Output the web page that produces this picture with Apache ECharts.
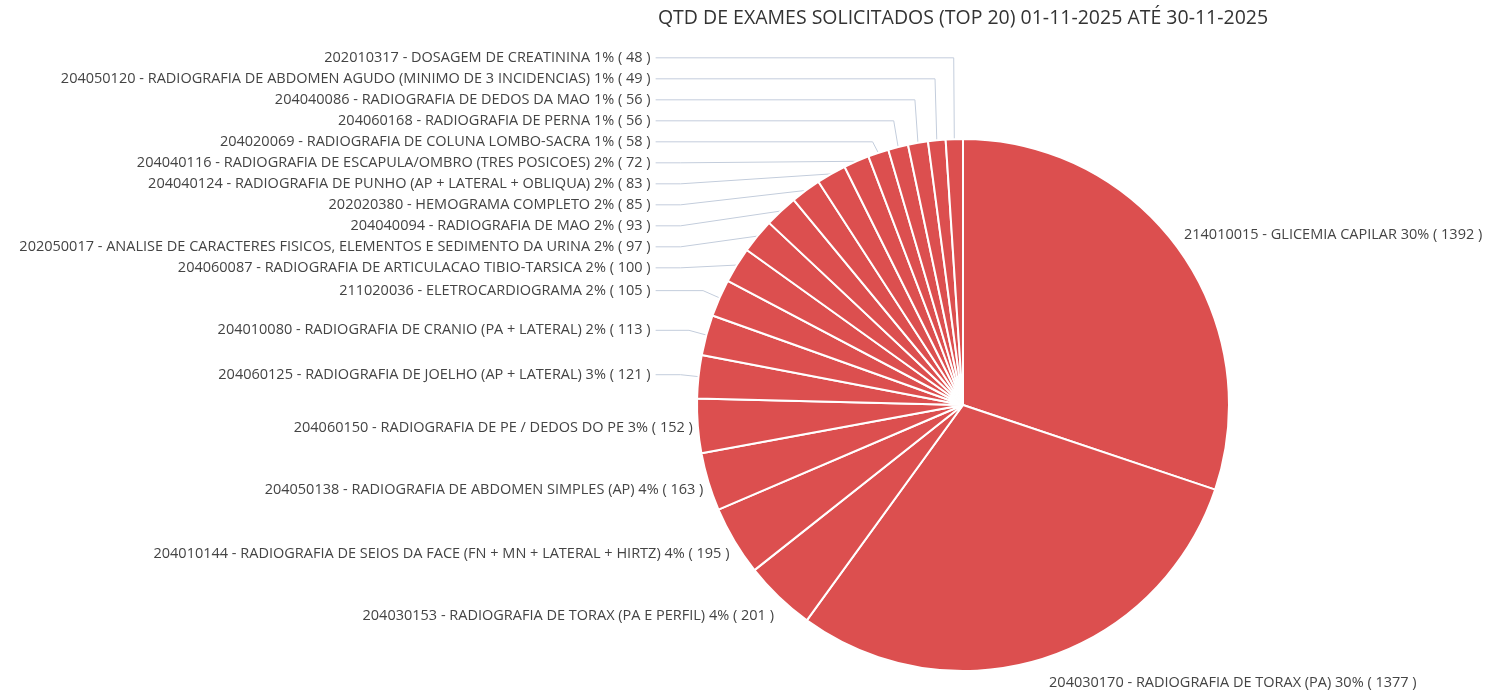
<!DOCTYPE html>
<html>
<head>
<meta charset="utf-8">
<script src="https://cdn.jsdelivr.net/npm/echarts@6/dist/echarts.min.js"></script>
<style>
  html, body { margin: 0; padding: 0; background: #fff; }
  #chart { width: 1492px; height: 695px; }
</style>
</head>
<body>
<div id="chart"></div>
<script>
// exames (top 20), ordem do grafico
var codigos = ['214010015', '204030170', '204030153', '204010144', '204050138', '204060150',
  '204060125', '204010080', '211020036', '204060087', '202050017', '204040094', '202020380',
  '204040124', '204040116', '204020069', '204060168', '204040086', '204050120', '202010317'];
var exames = ['GLICEMIA CAPILAR', 'RADIOGRAFIA DE TORAX (PA)', 'RADIOGRAFIA DE TORAX (PA E PERFIL)',
  'RADIOGRAFIA DE SEIOS DA FACE (FN + MN + LATERAL + HIRTZ)', 'RADIOGRAFIA DE ABDOMEN SIMPLES (AP)',
  'RADIOGRAFIA DE PE / DEDOS DO PE', 'RADIOGRAFIA DE JOELHO (AP + LATERAL)',
  'RADIOGRAFIA DE CRANIO (PA + LATERAL)', 'ELETROCARDIOGRAMA', 'RADIOGRAFIA DE ARTICULACAO TIBIO-TARSICA',
  'ANALISE DE CARACTERES FISICOS, ELEMENTOS E SEDIMENTO DA URINA', 'RADIOGRAFIA DE MAO',
  'HEMOGRAMA COMPLETO', 'RADIOGRAFIA DE PUNHO (AP + LATERAL + OBLIQUA)',
  'RADIOGRAFIA DE ESCAPULA/OMBRO (TRES POSICOES)', 'RADIOGRAFIA DE COLUNA LOMBO-SACRA',
  'RADIOGRAFIA DE PERNA', 'RADIOGRAFIA DE DEDOS DA MAO',
  'RADIOGRAFIA DE ABDOMEN AGUDO (MINIMO DE 3 INCIDENCIAS)', 'DOSAGEM DE CREATININA'];
var quantidades = [1392, 1377, 201, 195, 163, 152, 121, 113, 105, 100, 97, 93, 85, 83, 72, 58, 56, 56, 49, 48];

var total = quantidades.reduce(function (a, b) { return a + b; }, 0);

// geometria da pizza e dos rotulos
var CX = 963, CY = 405, R = 266;
var LEN = 18, LEN2 = 25, DIST = 5, LINHA = 21;
var GRANDE = 150; // fatias >= GRANDE: rotulo junto da borda, sem linha

// posicao dos rotulos: os pequenos empilhados a esquerda (pilha centrada), os grandes colados na borda
function calcRotulos() {
  var acc = 0;
  var info = quantidades.map(function (v) {
    var a = (acc + v / 2) / total * Math.PI * 2;
    acc += v;
    var s = Math.sin(a), c = Math.cos(a);
    return {
      v: v, s: s, c: c,
      p0: [CX + R * s, CY - R * c],
      x2: CX + (R + LEN) * s,
      y2: CY - (R + LEN) * c
    };
  });

  var peq = info.filter(function (o) { return o.v < GRANDE; })
    .sort(function (a, b) { return a.y2 - b.y2; });
  var grupos = peq.map(function (o) { return { itens: [o], soma: o.y2 }; });
  function topo(g) { return g.soma / g.itens.length - (g.itens.length - 1) * LINHA / 2; }
  var mudou = true;
  while (mudou) {
    mudou = false;
    for (var k = 1; k < grupos.length; k++) {
      var a = grupos[k - 1], b = grupos[k];
      if (topo(a) + a.itens.length * LINHA > topo(b)) {
        grupos.splice(k - 1, 2, { itens: a.itens.concat(b.itens), soma: a.soma + b.soma });
        mudou = true;
        break;
      }
    }
  }
  grupos.forEach(function (g) {
    var t = topo(g);
    g.itens.forEach(function (o, j) { o.y = t + j * LINHA; });
  });

  var xFim = Math.min.apply(null, peq.map(function (o) { return o.x2; })) - LEN2 - DIST;
  peq.forEach(function (o) {
    o.x = xFim;
    o.align = 'right';
    var p2 = [xFim + DIST, o.y];
    // rotulo empurrado para baixo: linha diagonal; senao cotovelo na altura do rotulo
    var p1 = o.y > o.y2 + 10 ? [p2[0] + LEN2, o.y] : [o.x2, o.y];
    o.linha = [o.p0, p1, p2];
  });

  info.forEach(function (o) {
    if (o.v >= GRANDE) {
      o.x = o.p0[0] + (o.s < 0 ? -DIST : DIST);
      o.y = CY - (R + 26) * o.c;
      o.align = o.s < 0 ? 'right' : 'left';
    }
  });
  return info;
}
var rotulos = calcRotulos();

var dados = quantidades.map(function (v, i) {
  var item = { name: codigos[i] + ' - ' + exames[i], value: v };
  if (v >= GRANDE) {
    item.labelLine = { show: false };
  }
  return item;
});

var myChart = echarts.init(document.getElementById('chart'));
var option = {
  title: {
    text: 'QTD DE EXAMES SOLICITADOS (TOP 20) 01-11-2025 ATÉ 30-11-2025',
    left: 958,
    textAlign: 'center',
    top: 3,
    textStyle: { fontFamily: 'Open Sans', fontSize: 19.5, fontWeight: 'normal', color: '#333' }
  },
  color: ['#dc4f4f'],
  series: [{
    type: 'pie',
    center: [CX, CY],
    radius: R,
    startAngle: 90,
    itemStyle: { borderColor: '#fff', borderWidth: 2 },
    label: {
      fontFamily: 'Open Sans',
      fontSize: 14.5,
      lineHeight: 21,
      color: '#444',
      overflow: 'none',
      formatter: function (p) {
        return p.name + ' ' + Math.round(p.value / total * 100) + '% ( ' + p.value + ' )';
      }
    },
    labelLine: {
      length: LEN,
      length2: LEN2,
      lineStyle: { color: '#c3cddc', width: 1 }
    },
    labelLayout: function (params) {
      var o = rotulos[params.dataIndex];
      var res = { x: o.x, y: o.y, align: o.align, verticalAlign: 'middle' };
      if (o.linha) {
        res.labelLinePoints = o.linha;
      }
      return res;
    },
    data: dados
  }]
};
myChart.setOption(option);
</script>
</body>
</html>
